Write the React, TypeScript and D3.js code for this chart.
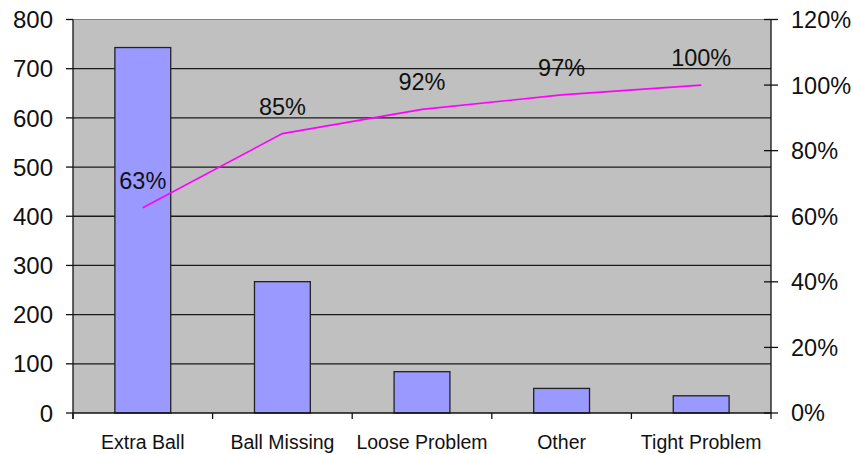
import React from "react";
import * as d3 from "d3";

// Pareto data
const categories = ["Extra Ball", "Ball Missing", "Loose Problem", "Other", "Tight Problem"];
const counts = [743, 267, 84, 50, 35];
const cumulative = [0.626, 0.852, 0.926, 0.97, 1.0];
const cumulativeLabels = ["63%", "85%", "92%", "97%", "100%"];
const leftTicks = [0, 100, 200, 300, 400, 500, 600, 700, 800];
const rightTicks = [0, 0.2, 0.4, 0.6, 0.8, 1.0, 1.2];

const W = 853;
const H = 454;
const left = 73;
const right = 771;
const top = 19.5;
const bottom = 413;
const font = "'Liberation Sans', Arial, sans-serif";

const App = () => {
  const x = d3
    .scaleBand<string>()
    .domain(categories)
    .range([left, right])
    .paddingInner(0.6)
    .paddingOuter(0.3);
  const yL = d3.scaleLinear().domain([0, 800]).range([bottom, top]);
  const yR = d3.scaleLinear().domain([0, 1.2]).range([bottom, top]);
  const step = x.step();
  const bw = x.bandwidth();
  const cx = (c: string) => (x(c) as number) + bw / 2;

  const line = d3
    .line<number>()
    .x((_, i) => cx(categories[i]))
    .y((d) => yR(d));

  const bounds = d3.range(categories.length + 1).map((i) => left + i * step);

  return (
    <svg
      width={W}
      height={H}
      style={{ position: "absolute", left: 0, top: 0, background: "#fff" }}
      fontFamily={font}
    >
      <rect x={left} y={top} width={right - left} height={bottom - top} fill="#c0c0c0" />
      <line x1={left} x2={right} y1={top} y2={top} stroke="#808080" strokeWidth={1} />

      {leftTicks.slice(1, -1).map((t) => (
        <line key={"g" + t} x1={left} x2={right} y1={yL(t)} y2={yL(t)} stroke="#1a1a1a" strokeWidth={1.3} />
      ))}

      {counts.map((v, i) => (
        <rect
          key={"b" + i}
          x={x(categories[i])}
          y={yL(v)}
          width={bw}
          height={bottom - yL(v)}
          fill="#9999ff"
          stroke="#222"
          strokeWidth={1.3}
        />
      ))}

      <path d={line(cumulative) || ""} fill="none" stroke="#ff00ff" strokeWidth={1.6} />

      {cumulative.map((v, i) => (
        <text
          key={"l" + i}
          x={cx(categories[i])}
          y={yR(v) - 19}
          textAnchor="middle"
          fontSize={23.5}
          fill="#111"
        >
          {cumulativeLabels[i]}
        </text>
      ))}

      {/* left axis */}
      <line x1={left} x2={left} y1={top} y2={bottom + 6} stroke="#111" strokeWidth={1.3} />
      {leftTicks.map((t) => (
        <g key={"lt" + t}>
          <line x1={left - 7} x2={left} y1={yL(t)} y2={yL(t)} stroke="#111" strokeWidth={1.3} />
          <text x={53} y={yL(t)} dy="0.36em" textAnchor="end" fontSize={24} fill="#111">
            {t}
          </text>
        </g>
      ))}

      {/* right axis */}
      <line x1={right} x2={right} y1={top} y2={bottom} stroke="#111" strokeWidth={1.3} />
      {rightTicks.map((t) => (
        <g key={"rt" + t}>
          <line x1={right - 7} x2={right + 7} y1={yR(t)} y2={yR(t)} stroke="#111" strokeWidth={1.3} />
          <text x={791} y={yR(t)} dy="0.36em" textAnchor="start" fontSize={23.5} fill="#111">
            {d3.format(".0%")(t)}
          </text>
        </g>
      ))}

      {/* bottom axis */}
      <line x1={left} x2={right} y1={bottom} y2={bottom} stroke="#111" strokeWidth={1.3} />
      {bounds.map((b, i) => (
        <line key={"xt" + i} x1={b} x2={b} y1={bottom} y2={bottom + 6} stroke="#111" strokeWidth={1.3} />
      ))}
      {categories.map((c) => (
        <text key={"xl" + c} x={cx(c)} y={449} textAnchor="middle" fontSize={19.5} fill="#111">
          {c}
        </text>
      ))}
    </svg>
  );
};

export default App;
